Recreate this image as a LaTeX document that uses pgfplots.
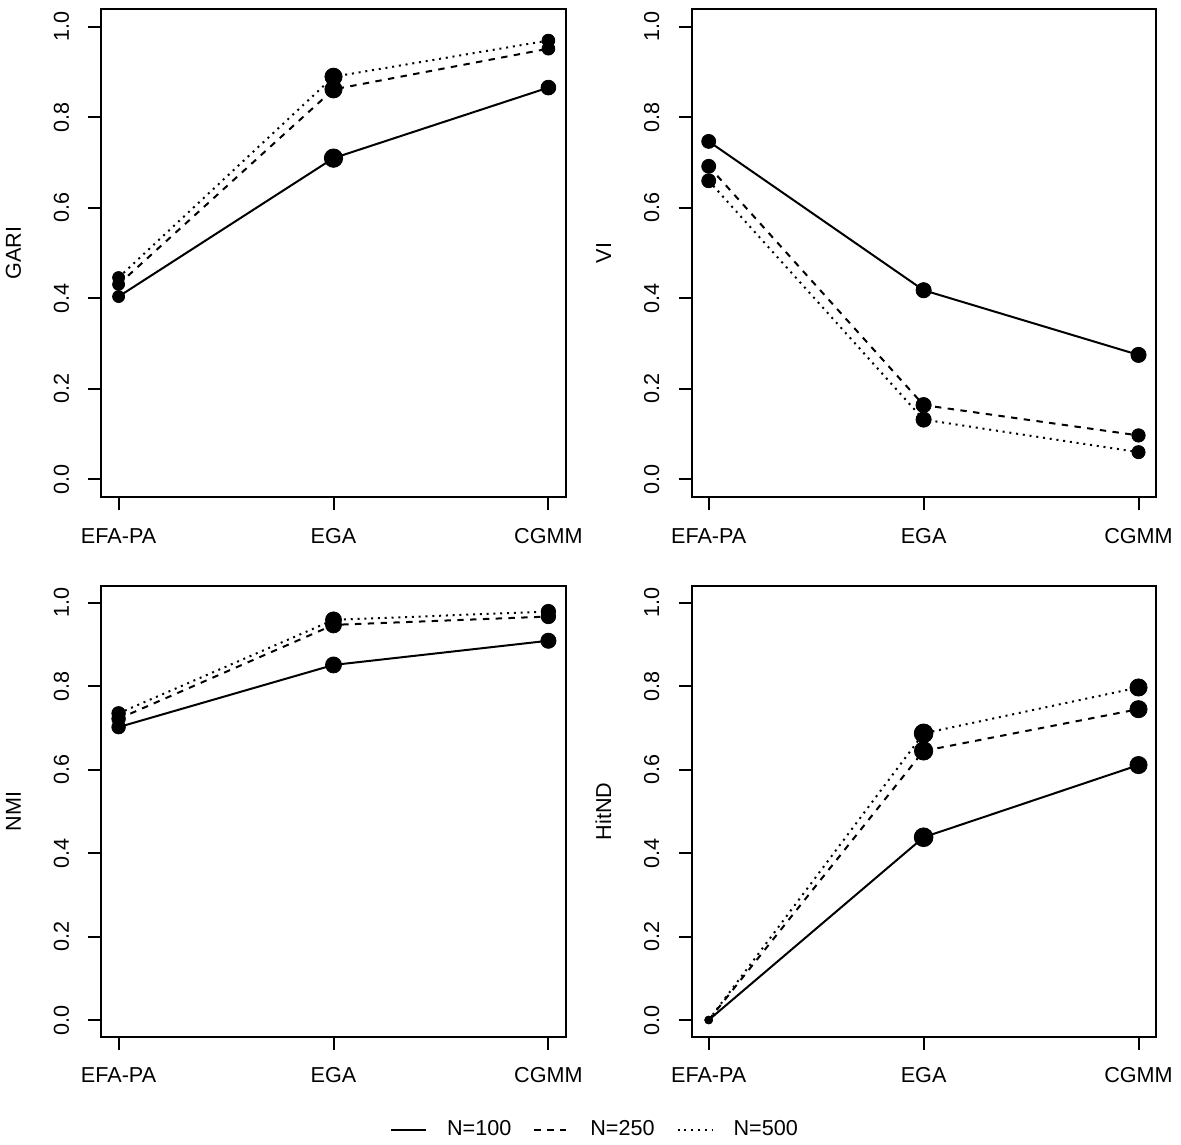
\documentclass[border=0pt]{standalone}
\usepackage{fontspec}
\setmainfont{Liberation Sans}
\usepackage{pgfplots}
\usepackage{pgfplotstable}
\pgfplotsset{compat=1.18}

\newcommand{\rf}{\fontsize{10.8pt}{13pt}\selectfont}

\pgfplotstableread{
x y1 r1 y2 r2 y3 r3
1 0.404 3.0 0.431 3.0 0.446 3.0
2 0.710 4.6 0.862 4.3 0.890 4.3
3 0.866 3.7 0.952 3.2 0.970 3.2
}\gari
\pgfplotstableread{
x y1 r1 y2 r2 y3 r3
1 0.747 3.5 0.692 3.5 0.660 3.5
2 0.418 3.8 0.164 3.8 0.132 3.8
3 0.275 3.8 0.097 3.35 0.060 3.3
}\vi
\pgfplotstableread{
x y1 r1 y2 r2 y3 r3
1 0.702 3.4 0.722 3.4 0.735 3.4
2 0.851 4.0 0.947 4.0 0.959 4.0
3 0.909 3.8 0.967 3.6 0.979 3.6
}\nmi
\pgfplotstableread{
x y1 r1 y2 r2 y3 r3
1 0.000 1.9 0.000 1.9 0.000 1.9
2 0.438 4.7 0.645 4.6 0.687 4.7
3 0.611 4.3 0.745 4.3 0.797 4.3
}\hitnd

\pgfplotsset{
  Rstyle/.style={
    scale only axis, width=232.1pt,
    anchor=south west,
    xmin=0.92, xmax=3.08, ymin=-0.04, ymax=1.04,
    axis line style={line width=1pt, black},
    xtick={1,2,3}, xticklabels={EFA-PA,EGA,CGMM},
    ytick={0,0.2,0.4,0.6,0.8,1.0},
    yticklabels={0.0,0.2,0.4,0.6,0.8,1.0},
    tick align=outside, xtick pos=bottom, ytick pos=left,
    major tick length=6.5pt,
    major tick style={line width=1pt, black},
    font=\rf,
    xticklabel style={font=\rf, anchor=base, yshift=-16.5pt, inner sep=0pt},
    yticklabel style={font=\rf, xshift=-9.75pt, rotate=90, anchor=base, inner sep=0pt},
    every axis y label/.style={at={(axis description cs:0,0.5)}, xshift=-40.2pt, rotate=90, anchor=base, font=\rf, inner sep=0pt},
    clip=false,
  },
  sline/.style={line width=1pt, black, no marks, solid},
  dline/.style={line width=1pt, black, no marks, dash pattern=on 3.2pt off 3.2pt},
  oline/.style={line width=1pt, black, no marks, dash pattern=on 1pt off 2.4pt},
  dots/.style={scatter, only marks, mark=*, forget plot,
    scatter/use mapped color={draw=none, fill=black},
    visualization depends on={\thisrow{#1} \as \rr},
    scatter/@pre marker code/.append style={/tikz/mark size=\rr pt}},
}

\begin{document}
\begin{tikzpicture}
\useasboundingbox (0,0) rectangle (590.5pt,572pt);

% GARI
\begin{axis}[Rstyle, height=244.25pt, at={(50.7pt,323.3pt)}, ylabel={GARI}]
\addplot[sline] table[x=x,y=y1] {\gari};
\addplot[dline] table[x=x,y=y2] {\gari};
\addplot[oline] table[x=x,y=y3] {\gari};
\addplot[dots=r1] table[x=x,y=y1] {\gari};
\addplot[dots=r2] table[x=x,y=y2] {\gari};
\addplot[dots=r3] table[x=x,y=y3] {\gari};
\end{axis}

% VI
\begin{axis}[Rstyle, height=244.25pt, at={(345.75pt,323.3pt)}, ylabel={VI}]
\addplot[sline] table[x=x,y=y1] {\vi};
\addplot[dline] table[x=x,y=y2] {\vi};
\addplot[oline] table[x=x,y=y3] {\vi};
\addplot[dots=r1] table[x=x,y=y1] {\vi};
\addplot[dots=r2] table[x=x,y=y2] {\vi};
\addplot[dots=r3] table[x=x,y=y3] {\vi};
\end{axis}

% NMI
\begin{axis}[Rstyle, height=225.3pt, at={(50.7pt,53.65pt)}, ylabel={NMI},
  legend columns=3,
  legend style={at={(axis description cs:1.0612,-0.206)}, anchor=center,
    draw=none, fill=none, inner sep=0pt, font=\rf,
    nodes={inner sep=0pt},
    /tikz/every odd column/.append style={column sep=10pt},
    /tikz/every even column/.append style={column sep=11pt}},
  legend image code/.code={\draw[#1] (0pt,0pt) -- (17.5pt,0pt);}]
\addplot[sline] table[x=x,y=y1] {\nmi};
\addlegendentry{N=100}
\addplot[dline] table[x=x,y=y2] {\nmi};
\addlegendentry{N=250}
\addplot[oline] table[x=x,y=y3] {\nmi};
\addlegendentry{N=500}
\addplot[dots=r1] table[x=x,y=y1] {\nmi};
\addplot[dots=r2] table[x=x,y=y2] {\nmi};
\addplot[dots=r3] table[x=x,y=y3] {\nmi};
\end{axis}

% HitND
\begin{axis}[Rstyle, height=225.3pt, at={(345.75pt,53.65pt)}, ylabel={HitND}]
\addplot[sline] table[x=x,y=y1] {\hitnd};
\addplot[dline] table[x=x,y=y2] {\hitnd};
\addplot[oline] table[x=x,y=y3] {\hitnd};
\addplot[dots=r1] table[x=x,y=y1] {\hitnd};
\addplot[dots=r2] table[x=x,y=y2] {\hitnd};
\addplot[dots=r3] table[x=x,y=y3] {\hitnd};
\end{axis}
\end{tikzpicture}
\end{document}
